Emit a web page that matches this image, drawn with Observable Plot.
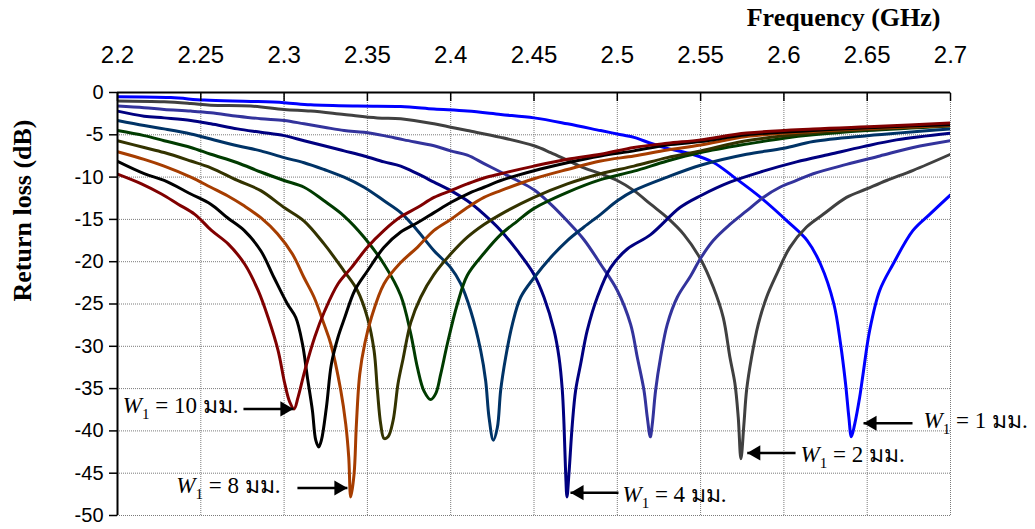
<!DOCTYPE html>
<html>
<head>
<meta charset="utf-8">
<script src="https://cdn.jsdelivr.net/npm/d3@7"></script>
<script src="https://cdn.jsdelivr.net/npm/@observablehq/plot@0.6"></script>
<style>
  html, body { margin: 0; padding: 0; background: #fff; }
</style>
</head>
<body>
<div id="chart"></div>
<script>
// ---- data ----
const seriesNames = ["W1 = 1", "W1 = 2", "W1 = 3", "W1 = 4", "W1 = 5", "W1 = 6", "W1 = 7", "W1 = 8", "W1 = 9", "W1 = 10"];
const seriesColors = ["#0000ff", "#404040", "#33339c", "#000080", "#003366", "#003b00", "#333300", "#a63d00", "#000000", "#800000"];

const w1 = [[2.2,-0.5],[2.232,-0.6],[2.252,-0.9],[2.28,-1.05],[2.30,-1.2],[2.316,-1.45],[2.344,-1.6],[2.37,-1.65],[2.39,-1.95],[2.41,-2.2],[2.43,-2.6],[2.45,-3.0],[2.47,-3.7],[2.49,-4.5],[2.50,-4.9],[2.51,-5.3],[2.52,-6.0],[2.53,-6.6],[2.545,-7.3],[2.558,-8.3],[2.57,-10.0],[2.586,-12.4],[2.602,-15.2],[2.614,-17.5],[2.622,-20.3],[2.63,-25.0],[2.634,-29.7],[2.637,-34.4],[2.639,-38.4],[2.6405,-40.7],[2.6425,-39.2],[2.6455,-36.0],[2.6475,-33.3],[2.6515,-28.1],[2.6575,-23.4],[2.6655,-20.3],[2.6775,-16.3],[2.6875,-14.4],[2.70,-12.1]];
const w2 = [[2.2,-1.0],[2.228,-1.1],[2.244,-1.3],[2.256,-1.5],[2.28,-1.6],[2.30,-2.0],[2.316,-2.2],[2.336,-2.6],[2.356,-3.0],[2.37,-3.1],[2.39,-3.7],[2.40,-4.1],[2.41,-4.5],[2.43,-5.3],[2.45,-6.3],[2.46,-7.1],[2.47,-8.0],[2.48,-8.9],[2.49,-9.6],[2.50,-10.4],[2.51,-11.6],[2.52,-13.2],[2.53,-14.8],[2.54,-16.8],[2.55,-19.7],[2.5576,-23.0],[2.5636,-26.6],[2.5676,-31.3],[2.5706,-34.4],[2.5726,-38.4],[2.5742,-43.3],[2.576,-39.2],[2.5776,-35.2],[2.5806,-31.3],[2.5846,-27.4],[2.5896,-24.2],[2.5956,-21.5],[2.6036,-18.3],[2.6136,-15.9],[2.6236,-14.4],[2.6376,-12.4],[2.6496,-11.4],[2.6616,-10.4],[2.6776,-9.2],[2.70,-7.3]];
const w3 = [[2.2,-1.6],[2.216,-1.8],[2.228,-2.0],[2.244,-2.2],[2.256,-2.4],[2.272,-2.8],[2.286,-3.1],[2.30,-3.3],[2.312,-3.7],[2.324,-4.1],[2.336,-4.5],[2.348,-4.7],[2.36,-5.1],[2.372,-5.6],[2.39,-6.3],[2.40,-6.9],[2.41,-7.4],[2.42,-8.4],[2.43,-9.4],[2.44,-10.4],[2.45,-11.5],[2.46,-13.2],[2.47,-15.2],[2.48,-17.4],[2.49,-20.3],[2.50,-23.4],[2.508,-27.4],[2.512,-31.3],[2.516,-35.2],[2.518,-38.4],[2.5198,-40.7],[2.521,-39.2],[2.523,-35.2],[2.526,-31.3],[2.53,-27.4],[2.536,-24.2],[2.544,-21.7],[2.55,-19.6],[2.5576,-17.5],[2.5676,-15.6],[2.5776,-14.0],[2.5876,-12.4],[2.5976,-11.2],[2.6076,-10.4],[2.6176,-9.6],[2.6376,-8.5],[2.6576,-7.5],[2.6776,-6.5],[2.70,-5.7]];
const w4 = [[2.2,-2.2],[2.216,-2.8],[2.228,-3.0],[2.244,-3.3],[2.256,-3.7],[2.272,-4.3],[2.286,-4.7],[2.30,-5.1],[2.312,-5.7],[2.324,-6.3],[2.336,-6.9],[2.348,-7.5],[2.36,-8.2],[2.37,-8.7],[2.38,-9.6],[2.39,-10.6],[2.40,-11.6],[2.41,-12.8],[2.42,-14.4],[2.43,-16.3],[2.44,-18.7],[2.45,-21.5],[2.456,-24.2],[2.462,-28.1],[2.465,-31.3],[2.467,-35.2],[2.468,-39.2],[2.469,-45.0],[2.4698,-47.8],[2.471,-45.0],[2.473,-39.2],[2.475,-35.2],[2.478,-32.1],[2.482,-28.1],[2.488,-24.2],[2.496,-20.7],[2.506,-18.5],[2.52,-16.8],[2.5376,-13.6],[2.55,-12.2],[2.5676,-10.6],[2.5876,-9.3],[2.6076,-8.2],[2.6276,-7.3],[2.6476,-6.4],[2.6676,-5.6],[2.70,-4.8]];
const w5 = [[2.2,-3.3],[2.216,-3.9],[2.228,-4.3],[2.244,-4.9],[2.256,-5.5],[2.272,-6.3],[2.286,-6.9],[2.30,-7.7],[2.312,-8.3],[2.324,-9.1],[2.336,-10.0],[2.348,-11.2],[2.36,-12.8],[2.37,-14.2],[2.38,-16.3],[2.39,-18.7],[2.40,-20.7],[2.406,-22.6],[2.412,-25.8],[2.418,-30.5],[2.421,-34.1],[2.423,-38.4],[2.4256,-41.1],[2.428,-39.6],[2.43,-35.2],[2.433,-31.3],[2.437,-27.4],[2.442,-24.2],[2.45,-21.9],[2.46,-19.5],[2.47,-17.5],[2.48,-15.9],[2.49,-14.4],[2.50,-12.8],[2.51,-11.6],[2.53,-10.0],[2.55,-8.6],[2.5776,-7.3],[2.60,-6.6],[2.6176,-5.8],[2.65,-5.1],[2.70,-4.3]];
const w6 = [[2.2,-4.5],[2.216,-5.1],[2.228,-5.7],[2.244,-6.5],[2.256,-7.3],[2.272,-8.3],[2.286,-9.4],[2.30,-10.4],[2.312,-11.2],[2.324,-12.8],[2.336,-14.6],[2.348,-17.1],[2.36,-20.3],[2.37,-24.0],[2.376,-28.5],[2.38,-32.5],[2.384,-35.3],[2.388,-36.3],[2.391,-35.6],[2.394,-33.3],[2.398,-29.7],[2.404,-25.0],[2.41,-21.6],[2.42,-19.0],[2.43,-16.8],[2.44,-15.2],[2.45,-13.7],[2.47,-11.8],[2.49,-10.3],[2.51,-9.3],[2.53,-8.1],[2.55,-7.1],[2.5776,-6.1],[2.60,-5.4],[2.6176,-5.0],[2.65,-4.5],[2.70,-3.95]];
const w7 = [[2.2,-5.7],[2.216,-6.5],[2.228,-7.1],[2.244,-8.1],[2.256,-8.9],[2.272,-10.4],[2.286,-11.6],[2.30,-13.6],[2.312,-15.2],[2.324,-17.9],[2.336,-21.1],[2.344,-23.4],[2.35,-26.6],[2.354,-30.5],[2.356,-35.2],[2.358,-39.2],[2.36,-40.9],[2.3624,-40.7],[2.3654,-38.8],[2.3684,-34.4],[2.3714,-31.5],[2.376,-27.2],[2.382,-24.2],[2.39,-21.5],[2.40,-19.1],[2.41,-17.1],[2.42,-15.6],[2.43,-14.4],[2.45,-12.4],[2.47,-10.8],[2.49,-9.6],[2.51,-8.7],[2.53,-7.7],[2.55,-6.9],[2.5776,-5.7],[2.6176,-4.8],[2.6576,-4.3],[2.70,-3.9]];
const w8 = [[2.2,-7.0],[2.216,-7.9],[2.228,-8.7],[2.244,-10.0],[2.256,-11.2],[2.266,-12.2],[2.276,-13.4],[2.286,-14.8],[2.296,-16.7],[2.305,-19.1],[2.312,-21.9],[2.318,-24.2],[2.324,-27.4],[2.328,-29.7],[2.334,-35.2],[2.337,-39.2],[2.3388,-43.1],[2.34,-47.8],[2.342,-45.1],[2.3434,-39.2],[2.3454,-33.3],[2.3484,-29.7],[2.3524,-26.6],[2.36,-22.6],[2.37,-20.1],[2.38,-18.3],[2.39,-16.3],[2.40,-15.0],[2.41,-13.6],[2.42,-12.4],[2.43,-11.6],[2.45,-10.2],[2.47,-9.1],[2.49,-8.1],[2.51,-7.5],[2.53,-6.8],[2.55,-6.2],[2.5776,-5.2],[2.6176,-4.6],[2.6576,-4.2],[2.70,-3.9]];
const w9 = [[2.2,-8.15],[2.216,-9.6],[2.228,-10.4],[2.244,-12.0],[2.256,-13.2],[2.266,-14.8],[2.276,-16.3],[2.286,-18.7],[2.294,-21.9],[2.302,-25.0],[2.307,-26.6],[2.311,-29.7],[2.314,-33.7],[2.317,-37.6],[2.319,-41.1],[2.3208,-41.9],[2.3224,-41.1],[2.3254,-37.2],[2.3284,-32.1],[2.3324,-28.9],[2.3364,-26.6],[2.3424,-23.4],[2.35,-21.1],[2.36,-18.3],[2.37,-16.5],[2.38,-15.4],[2.39,-14.2],[2.40,-13.0],[2.41,-12.0],[2.42,-11.2],[2.43,-10.4],[2.45,-9.25],[2.47,-8.3],[2.49,-7.5],[2.51,-6.9],[2.53,-6.2],[2.55,-5.8],[2.5776,-5.0],[2.6176,-4.5],[2.6576,-4.1],[2.70,-3.8]];
const w10 = [[2.2,-9.65],[2.2144,-10.8],[2.2264,-12.0],[2.2364,-13.2],[2.2464,-14.4],[2.2564,-16.3],[2.2664,-17.9],[2.2764,-20.3],[2.2844,-23.4],[2.2904,-26.6],[2.2964,-30.5],[2.3004,-34.4],[2.3034,-36.6],[2.306,-37.4],[2.3084,-36.0],[2.3124,-32.9],[2.3184,-28.9],[2.3244,-25.8],[2.3324,-22.6],[2.3404,-20.7],[2.35,-18.3],[2.36,-16.3],[2.37,-14.7],[2.38,-13.6],[2.39,-12.4],[2.40,-11.6],[2.41,-10.8],[2.42,-10.1],[2.43,-9.6],[2.45,-8.7],[2.47,-7.9],[2.49,-7.3],[2.51,-6.5],[2.53,-6.0],[2.55,-5.6],[2.5776,-4.8],[2.6176,-4.3],[2.6576,-4.0],[2.70,-3.6]];
const seriesValues = [w1, w2, w3, w4, w5, w6, w7, w8, w9, w10];

const xTicks = [2.2, 2.25, 2.3, 2.35, 2.4, 2.45, 2.5, 2.55, 2.6, 2.65, 2.7];
const yTicks = [0, -5, -10, -15, -20, -25, -30, -35, -40, -45, -50];
const xTitle = "Frequency (GHz)";
const yTitle = "Return loss (dB)";

// annotations (labels and arrows)
const annLabels = ["W1 = 10 มม.", "W1 = 8 มม.", "W1 = 4 มม.", "W1 = 2 มม.", "W1 = 1 มม."];
const annTailF = [2.2756, 2.308, 2.5007, 2.607, 2.6772];
const annTipF  = [2.3056, 2.338, 2.4719, 2.578, 2.6478];
const annArrowDb = [-37.4, -46.75, -47.3, -42.6, -39.1];
const annTextF = [2.2726, 2.2978, 2.5031, 2.610, 2.6838];
const annTextDb = [-37.9, -47.3, -48.4, -43.7, -39.7];

// ---- build tables ----
const rows = seriesNames.flatMap((s, i) => seriesValues[i].map(([f, db]) => ({series: s, f, db})));
const ann = annLabels.map((label, i) => ({
  label, tail: annTailF[i], tip: annTipF[i], y: annArrowDb[i],
  tx: annTextF[i], ty: annTextDb[i],
  dir: annTipF[i] > annTailF[i] ? 1 : -1
}));
const annRight = ann.filter(d => d.dir > 0);  // arrow points right, label on the left
const annLeft = ann.filter(d => d.dir < 0);   // arrow points left, label on the right

const serif = "'Liberation Serif', 'Times New Roman', Times, serif";
const sans = "'Liberation Sans', Arial, Helvetica, sans-serif";
const gridStyle = {stroke: "#7a7a7a", strokeOpacity: 1, strokeDasharray: "1,1", strokeWidth: 1};
const headSize = 5.6;            // triangle "radius"
const headOffset = 8.7;          // centroid-to-tip distance of that triangle
const labelStyle = {x: "tx", y: "ty", text: "label", lineAnchor: "bottom", fontSize: 23, fontFamily: serif};

const plot = Plot.plot({
  width: 1035,
  height: 529,
  marginTop: 92,
  marginLeft: 117,
  marginRight: 85,
  marginBottom: 14,
  style: {fontFamily: sans, fontSize: "20px", color: "#000", background: "#fff", overflow: "visible"},
  x: {domain: [2.2, 2.7], axis: null},
  y: {domain: [-50, 0], axis: null},
  color: {domain: seriesNames, range: seriesColors},
  marks: [
    Plot.gridX(xTicks.slice(1), gridStyle),
    Plot.gridY(yTicks.slice(1), gridStyle),
    Plot.line(rows, {x: "f", y: "db", z: "series", stroke: "series", strokeWidth: 3, clip: true,
      strokeLinejoin: "round", curve: "catmull-rom"}),
    Plot.ruleX([2.2], {stroke: "#000", strokeWidth: 2}),
    Plot.ruleY([0], {stroke: "#000", strokeWidth: 2}),
    // inward ticks on top axis
    Plot.axisX(xTicks, {anchor: "top", tickSize: 8, dy: 8, tickFormat: () => "", label: null, stroke: "#000", strokeWidth: 1.5}),
    // top tick labels
    Plot.axisX(xTicks, {anchor: "top", tickSize: 0, tickPadding: 30, label: null, fontSize: 24, fontFamily: sans,
      tickFormat: d => String(+d.toFixed(2))}),
    // left axis
    Plot.axisY(yTicks, {anchor: "left", tickSize: 8, tickPadding: 6, label: null, fontSize: 20, fontFamily: sans,
      stroke: "#000", strokeWidth: 1.5, tickFormat: d => String(d)}),
    // titles
    Plot.text([xTitle], {text: d => d, frameAnchor: "top-right", textAnchor: "end", lineAnchor: "bottom",
      dx: -10, dy: -67, fontSize: 26, fontWeight: "bold", fontFamily: serif}),
    Plot.text([yTitle], {text: d => d, frameAnchor: "top-left", rotate: -90, textAnchor: "middle", lineAnchor: "middle",
      dx: -95, dy: 118, fontSize: 26, fontWeight: "bold", fontFamily: serif}),
    // annotation arrows
    Plot.link(ann, {x1: "tail", x2: "tip", y1: "y", y2: "y", stroke: "#000", strokeWidth: 2.5}),
    Plot.dot(annRight, {x: "tip", y: "y", symbol: "triangle", r: headSize, fill: "#000", stroke: "none",
      rotate: 90, dx: -headOffset}),
    Plot.dot(annLeft, {x: "tip", y: "y", symbol: "triangle", r: headSize, fill: "#000", stroke: "none",
      rotate: -90, dx: headOffset}),
    // annotation labels
    Plot.text(annRight, {...labelStyle, textAnchor: "end"}),
    Plot.text(annLeft, {...labelStyle, textAnchor: "start"})
  ]
});

document.getElementById("chart").appendChild(plot);

// rich text for the annotation labels: italic W, subscript 1
d3.select(plot).selectAll("text").each(function() {
  const t = this.textContent;
  if (t.startsWith("W1 = ")) {
    const sel = d3.select(this);
    const rest = t.slice(2);
    sel.text(null);
    sel.append("tspan").attr("font-style", "italic").text("W");
    sel.append("tspan").attr("font-size", 15).attr("dy", 6).text("1");
    sel.append("tspan").attr("dy", -6).text(rest);
  }
});
</script>
</body>
</html>
